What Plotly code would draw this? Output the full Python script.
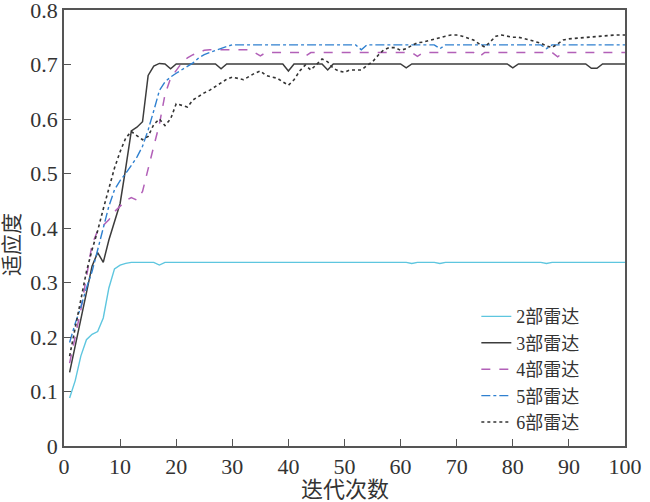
import plotly.graph_objects as go

# ---- data ----
x2 = [1, 2, 3, 4, 5, 6, 7, 8, 9, 10, 11, 12, 16, 17, 18, 61, 62, 63, 66, 67, 68, 85, 86, 87, 100]
y2 = [0.088, 0.12, 0.165, 0.195, 0.205, 0.21, 0.235, 0.29, 0.325, 0.332, 0.335, 0.337, 0.337, 0.332, 0.337,
      0.337, 0.335, 0.337, 0.337, 0.335, 0.337, 0.337, 0.335, 0.337, 0.337]

x3 = [1, 2, 3, 4, 5, 6, 7, 8, 9, 10, 11, 12, 13, 14, 15, 16, 17, 18, 19, 20,
      27, 28, 29, 39, 40, 41, 46, 47, 48, 60, 61, 62, 79, 80, 81, 93, 94, 95, 96, 100]
y3 = [0.135, 0.185, 0.235, 0.285, 0.33, 0.355, 0.337, 0.378, 0.41, 0.445, 0.51, 0.578, 0.585, 0.595, 0.68,
      0.697, 0.702, 0.701, 0.692, 0.701,
      0.701, 0.692, 0.701, 0.701, 0.688, 0.701, 0.701, 0.69, 0.701, 0.701, 0.694, 0.701,
      0.701, 0.694, 0.701, 0.701, 0.693, 0.693, 0.701, 0.701]

x4 = [1, 2, 3, 4, 5, 6, 7, 8, 9, 10, 11, 12, 13, 14, 15, 16, 17, 18, 19, 20, 21, 22, 23, 24, 25, 26,
      33, 34, 35, 36, 42, 43, 44, 62, 63, 64, 73, 74, 75, 87, 88, 89, 100]
y4 = [0.152, 0.2, 0.25, 0.31, 0.37, 0.395, 0.405, 0.415, 0.43, 0.44, 0.45, 0.456, 0.451, 0.467, 0.51,
      0.55, 0.59, 0.645, 0.675, 0.69, 0.703, 0.712, 0.718, 0.722, 0.726, 0.727,
      0.727, 0.722, 0.716, 0.722, 0.722, 0.715, 0.722, 0.722, 0.715, 0.722, 0.722, 0.714, 0.722,
      0.722, 0.714, 0.722, 0.722]

x5 = [1, 2, 3, 4, 5, 6, 7, 8, 9, 10, 11, 12, 13, 14, 15, 16, 17, 18, 19, 20, 21, 22, 23, 24, 25,
      26, 27, 28, 29, 30, 52, 53, 54, 66, 67, 68, 85, 86, 87, 100]
y5 = [0.19, 0.225, 0.255, 0.29, 0.32, 0.36, 0.4, 0.44, 0.47, 0.487, 0.5, 0.515, 0.53, 0.55, 0.58,
      0.615, 0.652, 0.668, 0.677, 0.684, 0.69, 0.697, 0.703, 0.712, 0.718,
      0.722, 0.726, 0.73, 0.733, 0.736, 0.736, 0.727, 0.736, 0.736, 0.729, 0.736, 0.736, 0.729, 0.736, 0.736]

x6 = list(range(1, 101))
y6 = [0.165, 0.215, 0.27, 0.32, 0.36, 0.395, 0.435, 0.475, 0.51, 0.54,
      0.565, 0.577, 0.57, 0.562, 0.568, 0.59, 0.6, 0.588, 0.6, 0.628,
      0.625, 0.622, 0.635, 0.642, 0.648, 0.653, 0.66, 0.667, 0.673, 0.677,
      0.675, 0.672, 0.678, 0.684, 0.688, 0.68, 0.677, 0.675, 0.668, 0.662,
      0.672, 0.688, 0.699, 0.69, 0.7, 0.71, 0.705, 0.693, 0.688, 0.686,
      0.69, 0.69, 0.69, 0.698, 0.705, 0.717, 0.727, 0.731, 0.731, 0.726,
      0.729, 0.735, 0.74, 0.741, 0.744, 0.747, 0.75, 0.752, 0.754, 0.754,
      0.752, 0.749, 0.745, 0.738, 0.732, 0.742, 0.752, 0.754, 0.752, 0.75,
      0.75, 0.748, 0.745, 0.742, 0.739, 0.734, 0.731, 0.738, 0.745, 0.747,
      0.748, 0.749, 0.75, 0.751, 0.752, 0.753, 0.753, 0.754, 0.754, 0.754]

names = ["2部雷达", "3部雷达", "4部雷达", "5部雷达", "6部雷达"]
xs = [x2, x3, x4, x5, x6]
ys = [y2, y3, y4, y5, y6]
colors = ["#5ec6df", "#3c3c3c", "#b260b8", "#2f80d0", "#333333"]
dashes = ["solid", "solid", "dash", "dashdot", "dot"]
widths = [1.4, 1.5, 1.5, 1.4, 1.6]

x_ticks = [0, 10, 20, 30, 40, 50, 60, 70, 80, 90, 100]
y_ticks = [0, 0.1, 0.2, 0.3, 0.4, 0.5, 0.6, 0.7, 0.8]
y_tick_text = ["0", "0.1", "0.2", "0.3", "0.4", "0.5", "0.6", "0.7", "0.8"]

FONT = "'Liberation Serif', 'Times New Roman', 'Noto Sans CJK SC', serif"
TXT = "#333333"

fig = go.Figure()
for n, xx, yy, c, d, w in zip(names, xs, ys, colors, dashes, widths):
    fig.add_trace(go.Scatter(x=xx, y=yy, mode="lines", name=n,
                             line=dict(color=c, dash=d, width=w)))

axis_common = dict(showgrid=False, zeroline=False, showline=True, linecolor="#555555",
                   linewidth=1.5, mirror=True, ticks="inside", ticklen=7, tickwidth=1.3,
                   tickcolor="#555555", automargin=False, ticklabeloverflow="allow",
                   tickfont=dict(family=FONT, size=22, color=TXT))

fig.update_xaxes(range=[0, 100], tickvals=x_ticks, **axis_common)
fig.update_yaxes(range=[0, 0.8], tickvals=y_ticks, ticktext=y_tick_text, **axis_common)

fig.add_annotation(text="适应度", textangle=-90, xref="paper", yref="paper",
                   x=0, y=0.461, xanchor="center", yanchor="middle", xshift=-52, showarrow=False,
                   font=dict(family=FONT, size=21, color=TXT))
fig.add_annotation(text="迭代次数", xref="paper", yref="paper",
                   x=0.5, y=0, xanchor="center", yanchor="middle", yshift=-43, showarrow=False,
                   font=dict(family=FONT, size=22, color=TXT))

fig.update_layout(
    width=650, height=502,
    margin=dict(l=64, r=25, t=10, b=56, autoexpand=False),
    paper_bgcolor="white", plot_bgcolor="white",
    showlegend=True,
    legend=dict(x=0.735, y=0.339, xanchor="left", yanchor="top",
                font=dict(family=FONT, size=18, color=TXT),
                bgcolor="rgba(0,0,0,0)", borderwidth=0, tracegroupgap=0),
)

fig.write_html("out.html", config={"displayModeBar": False},
               post_script="document.body.style.margin='0';document.body.style.overflow='hidden';")
